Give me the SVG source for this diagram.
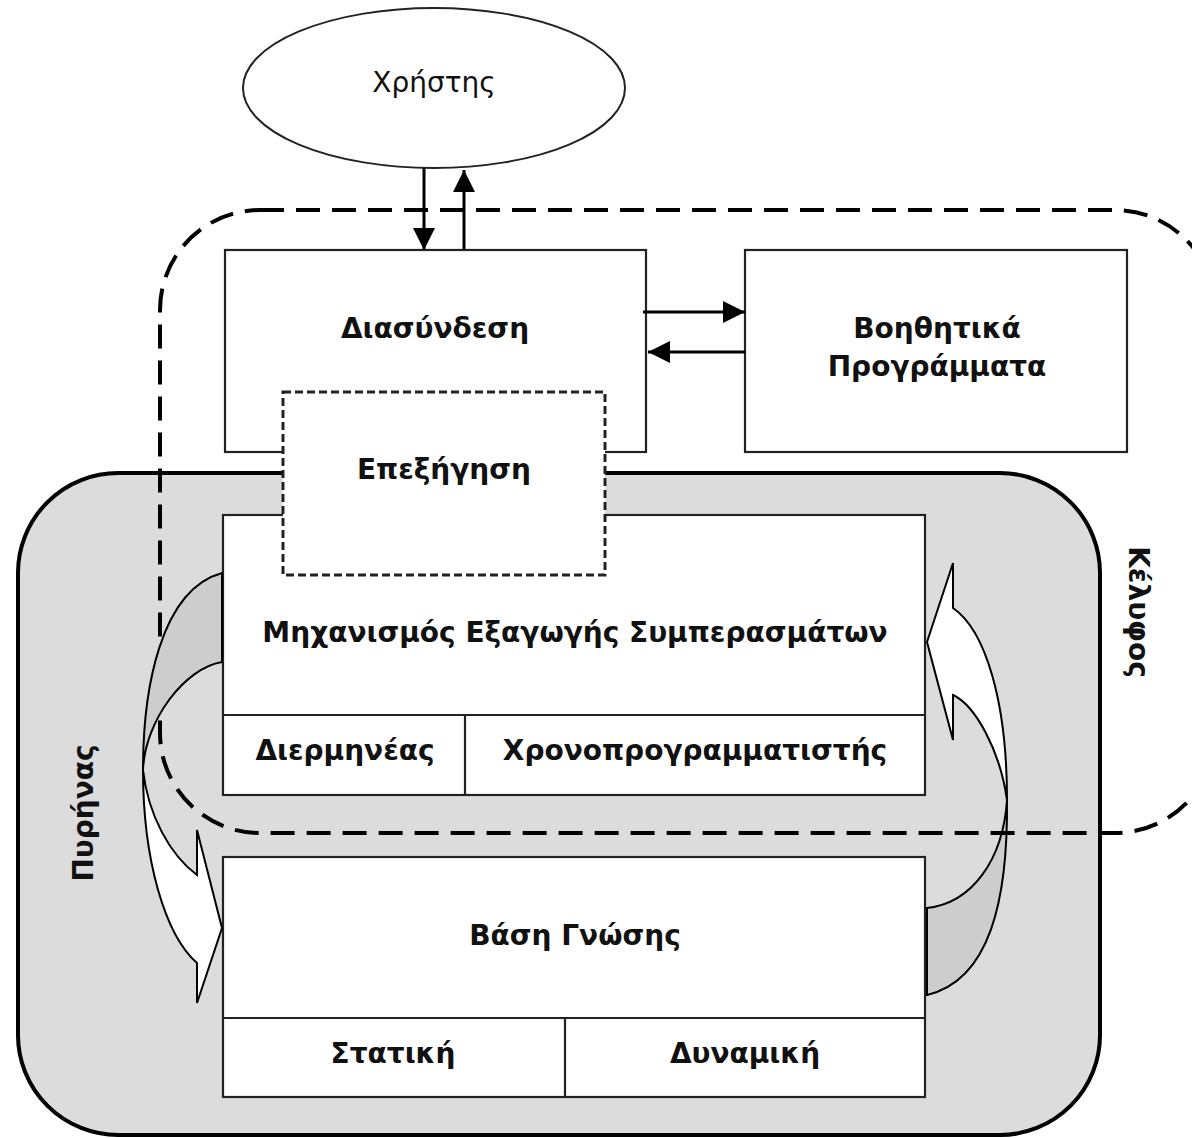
<svg xmlns="http://www.w3.org/2000/svg" width="1192" height="1138" viewBox="0 0 1192 1138">
<defs>
<style>
.box{fill:#fff;stroke:#222;stroke-width:2.2}
.t{font-family:"DejaVu Sans",sans-serif;font-size:28px;font-weight:bold;fill:#111;text-anchor:middle}
.tr{font-family:"DejaVu Sans",sans-serif;font-size:28px;fill:#111;text-anchor:middle}
.ln{stroke:#000;stroke-width:3;fill:none}
.band{stroke:#000;stroke-width:2}
</style>
<marker id="ah" viewBox="0 0 22 22" refX="22" refY="11" markerWidth="22" markerHeight="22" markerUnits="userSpaceOnUse" orient="auto">
<path d="M0,0 L22,11 L0,22 Z" fill="#000"/>
</marker>
</defs>
<rect width="1192" height="1138" fill="#fff"/>
<g id="kernel">
<rect x="18" y="473" width="1082" height="662" rx="100" ry="100" fill="#dcdcdc" stroke="#000" stroke-width="4"/>
<text class="t" transform="translate(93,813) rotate(-90)">Πυρήνας</text>
</g>
<g id="right-cycle-arrow">
<path class="band" fill="#cdcdcd" d="M927,995 C990,980 1008,900 1007,800 C1003,860 972,903 927,908 Z"/>
<path class="band" fill="#fff" d="M1007,800 C1007,700 985,630 953,608 L953,563 L927,642 L953,740 L953,695 C975,705 1000,750 1007,800 Z"/>
</g>
<g id="shell">
<rect x="160" y="210" width="1055" height="623" rx="100" ry="100" fill="none" stroke="#000" stroke-width="4" stroke-dasharray="24 12"/>
<text class="t" transform="translate(1129,612) rotate(90)">Κέλυφος</text>
</g>
<g id="user">
<ellipse cx="434" cy="88" rx="191" ry="80" fill="#fff" stroke="#222" stroke-width="2"/>
<text class="tr" x="434" y="92">Χρήστης</text>
</g>
<g id="interface">
<rect class="box" x="225" y="250" width="421" height="202"/>
<text class="t" x="435" y="338">Διασύνδεση</text>
</g>
<g id="utilities">
<rect class="box" x="745" y="250" width="382" height="202"/>
<text class="t" x="937" y="338">Βοηθητικά</text>
<text class="t" x="937" y="376">Προγράμματα</text>
</g>
<g id="inference-engine">
<rect class="box" x="223" y="515" width="702" height="280"/>
<line x1="223" y1="715" x2="925" y2="715" stroke="#222" stroke-width="2.2"/>
<line x1="465" y1="715" x2="465" y2="795" stroke="#222" stroke-width="2.2"/>
<text class="t" x="575" y="642">Μηχανισμός Εξαγωγής Συμπερασμάτων</text>
</g>
<g id="interpreter">
<text class="t" x="345" y="760">Διερμηνέας</text>
</g>
<g id="scheduler">
<text class="t" x="695" y="760">Χρονοπρογραμματιστής</text>
</g>
<g id="knowledge-base">
<rect class="box" x="223" y="857" width="702" height="240"/>
<line x1="223" y1="1018" x2="925" y2="1018" stroke="#222" stroke-width="2.2"/>
<line x1="565" y1="1018" x2="565" y2="1097" stroke="#222" stroke-width="2.2"/>
<text class="t" x="575" y="945">Βάση Γνώσης</text>
</g>
<g id="static">
<text class="t" x="393" y="1063">Στατική</text>
</g>
<g id="dynamic">
<text class="t" x="745" y="1063">Δυναμική</text>
</g>
<g id="left-cycle-arrow">
<path class="band" fill="#cdcdcd" d="M222,573 C160,590 143,690 143,770 C145,720 185,668 222,662 Z"/>
<path class="band" fill="#fff" d="M143,770 C143,860 165,935 197,963 L197,1003 L222,928 L197,830 L197,875 C170,855 148,815 143,770 Z"/>
</g>
<g id="explanation">
<rect x="283" y="392" width="322" height="183" fill="#fff" stroke="#222" stroke-width="3" stroke-dasharray="8 4"/>
<text class="t" x="444" y="479">Επεξήγηση</text>
</g>
<g id="connectors">
<line class="ln" x1="424" y1="168" x2="424" y2="250" marker-end="url(#ah)"/>
<line class="ln" x1="464" y1="250" x2="464" y2="170" marker-end="url(#ah)"/>
<line class="ln" x1="643" y1="312" x2="745" y2="312" marker-end="url(#ah)"/>
<line class="ln" x1="745" y1="352" x2="648" y2="352" marker-end="url(#ah)"/>
</g>
</svg>
